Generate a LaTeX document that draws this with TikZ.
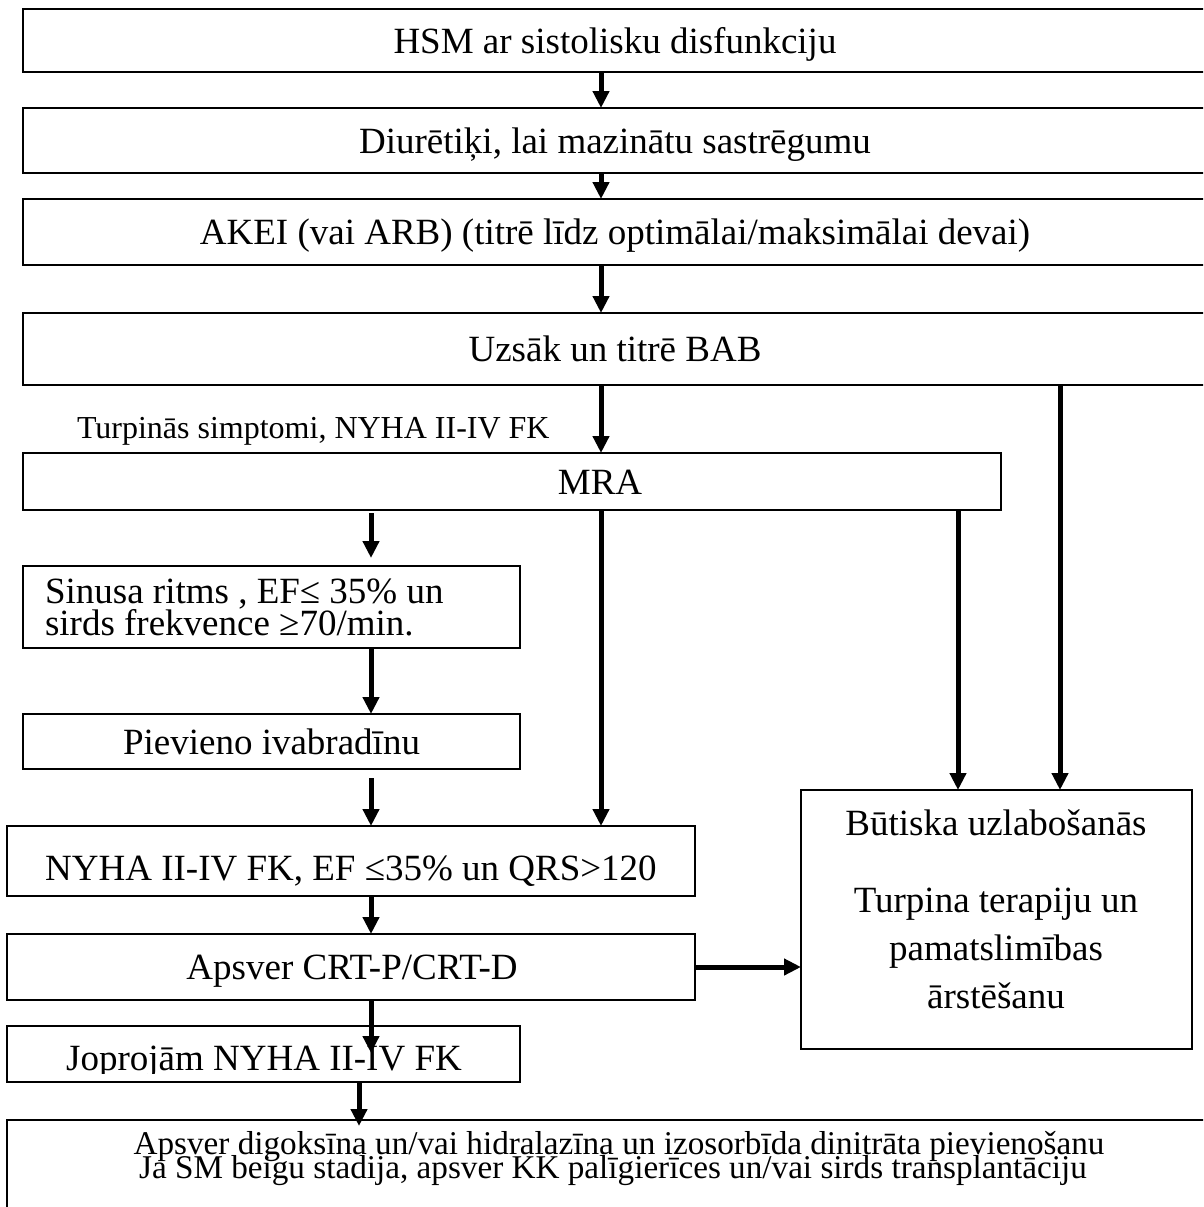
\documentclass[tikz,border=0pt]{standalone}
\usepackage{fontspec}
\setmainfont{Liberation Serif}
\usetikzlibrary{arrows.meta}
\newcommand\mainsize{\fontsize{37}{32}\selectfont}
\newcommand\notesize{\fontsize{32}{30}\selectfont}
\newcommand\footsize{\fontsize{33.2}{24}\selectfont}

\begin{document}
\begin{tikzpicture}[x=1pt, y=-1pt,
  box/.style={draw, line width=2.2pt, inner sep=0pt, outer sep=0pt, anchor=north west},
  txt/.style={inner sep=0pt, outer sep=0pt, anchor=base, font=\mainsize},
  arr/.style={line width=5pt, -{Triangle[length=17pt, width=16pt]}}]
\useasboundingbox (0,0) rectangle (1203,1207);
\fill[white] (0,0) rectangle (1203,1207);
\clip (0,0) rectangle (1203,1207);

% columns used by the connectors
\coordinate (cA) at (359,0);
\coordinate (cB) at (371,0);
\coordinate (cC) at (601,0);
\coordinate (cD) at (958,0);
\coordinate (cE) at (1060,0);

% boxes
\node[box, minimum width=1200pt, minimum height=63pt] (hsm)   at (23,9)    {};
\node[box, minimum width=1200pt, minimum height=65pt] (diur)  at (23,108)  {};
\node[box, minimum width=1200pt, minimum height=66pt] (akei)  at (23,199)  {};
\node[box, minimum width=1200pt, minimum height=72pt] (uzsak) at (23,313)  {};
\node[box, minimum width=978pt,  minimum height=57pt] (mra)   at (23,453)  {};
\node[box, minimum width=497pt,  minimum height=82pt, line width=2.6pt] (sinus) at (23,566) {};
\node[box, minimum width=497pt,  minimum height=55pt] (piev)  at (23,714)  {};
\node[box, minimum width=688pt,  minimum height=70pt] (nyha)  at (7,826)   {};
\node[box, minimum width=688pt,  minimum height=66pt] (apsv)  at (7,934)   {};
\node[box, minimum width=513pt,  minimum height=56pt] (jopr)  at (7,1026)  {};
\node[box, minimum width=1220pt, minimum height=120pt] (final) at (7,1120) {};
\node[box, minimum width=391pt,  minimum height=259pt] (but)  at (801,790) {};

% texts
\node[txt] (hsm-t)   at (615,53)  {HSM ar sistolisku disfunkciju};
\node[txt] (diur-t)  at (615,153) {Diurētiķi, lai mazinātu sastrēgumu};
\node[txt] (akei-t)  at (615,244) {AKEI (vai ARB) (titrē līdz optimālai/maksimālai devai)};
\node[txt] (uzsak-t) at (615,361) {Uzsāk un titrē BAB};
\node[txt, anchor=base west, font=\notesize] (cond-t) at (77,438) {Turpinās simptomi, NYHA II-IV FK};
\node[txt] (mra-t)   at (600,494) {MRA};
\node[txt, anchor=base west] (sinus-t1) at (45,603) {Sinusa ritms , EF≤ 35\% un};
\node[txt, anchor=base west] (sinus-t2) at (45,635) {sirds frekvence ≥70/min.};
\node[txt] (piev-t)  at (271.5,754) {Pievieno ivabradīnu};
\node[txt] (nyha-t)  at (351,880) {NYHA II-IV FK, EF ≤35\% un QRS>120};
\node[txt] (apsv-t)  at (352,979) {Apsver CRT-P/CRT-D};
\begin{scope}
  \clip (7,1026) rectangle (520,1073);
  \node[txt] (jopr-t) at (264,1070) {Joprojām NYHA II-IV FK};
\end{scope}
\node[txt, font=\footsize] (final-t1) at (619,1154) {Apsver digoksīna un/vai hidralazīna un izosorbīda dinitrāta pievienošanu};
\node[txt, font=\footsize] (final-t2) at (613,1178) {Ja SM beigu stadija, apsver KK palīgierīces un/vai sirds transplantāciju};
\node[txt] (but-t1) at (996,835)  {Būtiska uzlabošanās};
\node[txt] (but-t2) at (996,912)  {Turpina terapiju un};
\node[txt] (but-t3) at (996,960)  {pamatslimības};
\node[txt] (but-t4) at (996,1008) {ārstēšanu};

% connectors
\draw[arr] (hsm.south -| cC)   -- (diur.north -| cC);
\draw[arr] (diur.south -| cC)  -- (akei.north -| cC);
\draw[arr] (akei.south -| cC)  -- (uzsak.north -| cC);
\draw[arr] (uzsak.south -| cC) -- (mra.north -| cC);
\draw[arr] (uzsak.south -| cE) -- (but.north -| cE);
\draw[arr] (mra.south -| cD)   -- (but.north -| cD);
\draw[arr] (mra.south -| cC)   -- (nyha.north -| cC);
\draw[arr, shorten <=3pt, shorten >=8pt] (mra.south -| cB) -- (sinus.north -| cB);
\draw[arr] (sinus.south -| cB) -- (piev.north -| cB);
\draw[arr, shorten <=9pt] (piev.south -| cB) -- (nyha.north -| cB);
\draw[arr] (nyha.south -| cB)  -- (apsv.north -| cB);
\draw[arr, shorten >=-27pt] (apsv.south -| cB) -- (jopr.north -| cB);
\draw[arr, shorten >=-6pt] (jopr.south -| cA)  -- (final.north -| cA);
\draw[arr] (apsv.east) -- (apsv.east -| but.west);
\end{tikzpicture}
\end{document}
